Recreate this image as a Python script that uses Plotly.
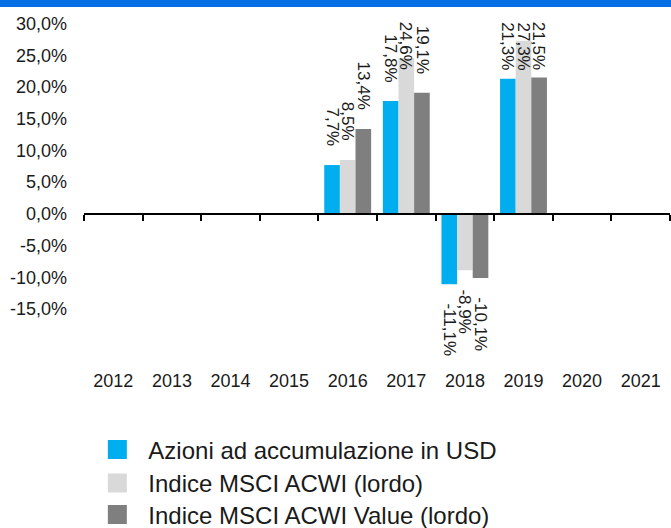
import plotly.graph_objects as go

years = ["2012", "2013", "2014", "2015", "2016", "2017", "2018", "2019", "2020", "2021"]
series_names = ["Azioni ad accumulazione in USD", "Indice MSCI ACWI (lordo)", "Indice MSCI ACWI Value (lordo)"]
azioni = [None, None, None, None, 7.7, 17.8, -11.1, 21.3, None, None]
msci_acwi = [None, None, None, None, 8.5, 24.6, -8.9, 27.3, None, None]
msci_value = [None, None, None, None, 13.4, 19.1, -10.1, 21.5, None, None]
colors = ["#00AEEF", "#D9D9D9", "#7F7F7F"]
y_ticks = [30, 25, 20, 15, 10, 5, 0, -5, -10, -15]

FONT = "Arial, 'Liberation Sans', sans-serif"
Y_MIN, Y_MAX = -24, 32
PLOT_H = 355
PLOT_BOTTOM = 366
PX = PLOT_H / (Y_MAX - Y_MIN)
BARGAP = 0.2


def fmt(v):
    return f"{v:.1f}".replace(".", ",") + "%"


fig = go.Figure()
all_series = [azioni, msci_acwi, msci_value]
legend_ids = ["legend", "legend2", "legend3"]
for name, vals, col in zip(series_names, all_series, colors):
    fig.add_trace(go.Bar(x=years, y=vals, name=name, marker=dict(color=col, line=dict(width=0)),
                         showlegend=False))
for i, (name, col) in enumerate(zip(series_names, colors)):
    fig.add_trace(go.Scatter(x=[None], y=[None], mode="markers", name=name, legend=legend_ids[i],
                             marker=dict(symbol="square", size=16, color=col, line=dict(width=3, color=col))))

gap_px = 17
top_limit = Y_MAX - (20 - 11) / PX
bw = (1 - BARGAP) / 3
for k, vals in enumerate(all_series):
    for i, v in enumerate(vals):
        if v is None:
            continue
        txt = fmt(v)
        xpos = i + (k - 1) * bw
        common = dict(x=xpos, text=txt, textangle=90, showarrow=False, xanchor="center",
                      font=dict(size=17, color="#1a1a1a", family=FONT))
        if v >= 0:
            est_len = len(txt) * 9.6
            if v + (gap_px + est_len) / PX > top_limit:
                fig.add_annotation(y=top_limit, yanchor="top", **common)
            else:
                fig.add_annotation(y=v, yanchor="bottom", yshift=gap_px, **common)
        else:
            fig.add_annotation(y=v, yanchor="top", yshift=-gap_px, **common)

zero_pos = (0 - Y_MIN) / (Y_MAX - Y_MIN)
n = len(years)

legend_rows_px = [450, 483.5, 515]
legend_style = dict(x=0.004, xanchor="left", yanchor="middle", itemwidth=52,
                    font=dict(size=24, color="#1a1a1a", family=FONT), bgcolor="rgba(0,0,0,0)")

fig.update_layout(
    width=671, height=528,
    margin=dict(l=84, r=1, t=11, b=162, autoexpand=False),
    paper_bgcolor="white", plot_bgcolor="white",
    separators=",.",
    barmode="group", bargap=BARGAP, bargroupgap=0,
    font=dict(family=FONT, size=18, color="#1a1a1a"),
    xaxis=dict(type="category", categoryorder="array", categoryarray=years,
               range=[-0.5, n - 0.5], showline=False, ticks="", showgrid=False, automargin=False,
               tickfont=dict(size=18, color="#1a1a1a"), ticklabelstandoff=2),
    xaxis2=dict(overlaying="x", anchor="free", position=zero_pos, range=[-0.5, n - 0.5],
                showline=True, linecolor="black", linewidth=2, automargin=False,
                tickvals=[i - 0.5 for i in range(n + 1)], ticks="outside", ticklen=6,
                tickwidth=2, tickcolor="black", showticklabels=False, showgrid=False,
                zeroline=False, side="bottom"),
    yaxis=dict(range=[Y_MIN, Y_MAX], tickvals=y_ticks, ticktext=[fmt(t) for t in y_ticks],
               showgrid=False, zeroline=False, showline=False, ticks="", automargin=False,
               tickfont=dict(size=18, color="#1a1a1a"), ticklabelstandoff=16),
    legend=dict(y=(PLOT_BOTTOM - legend_rows_px[0]) / PLOT_H, **legend_style),
    legend2=dict(y=(PLOT_BOTTOM - legend_rows_px[1]) / PLOT_H, **legend_style),
    legend3=dict(y=(PLOT_BOTTOM - legend_rows_px[2]) / PLOT_H, **legend_style),
    shapes=[dict(type="rect", xref="paper", yref="paper", x0=-0.2, x1=1.1,
                 y0=(PLOT_H + 4) / PLOT_H, y1=(PLOT_H + 20) / PLOT_H,
                 fillcolor="#0570E6", line=dict(width=0), layer="above")],
)
fig.add_trace(go.Scatter(x=[None], y=[None], xaxis="x2", showlegend=False, hoverinfo="skip"))

fig.write_html("out.html", config={"displayModeBar": False},
               post_script="document.body.style.margin='0px';")
